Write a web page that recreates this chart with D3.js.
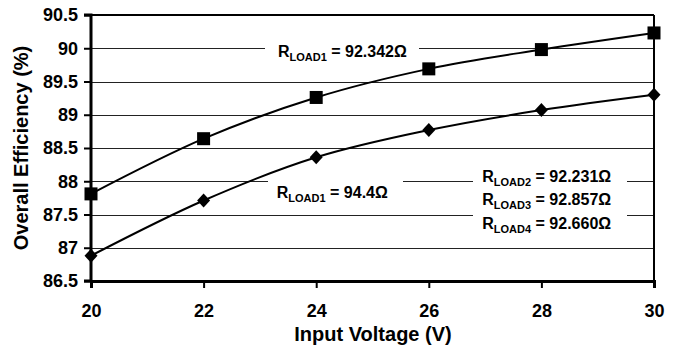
<!DOCTYPE html>
<html><head><meta charset="utf-8">
<script src="https://cdn.jsdelivr.net/npm/d3@7"></script>
<style>body{margin:0;background:#fff}svg{display:block}text{font-family:"Liberation Sans",Arial,sans-serif;font-weight:bold;fill:#000}</style>
</head><body>
<script>
const voltages = [20, 22, 24, 26, 28, 30];
const effSquare = [87.81, 88.64, 89.26, 89.69, 89.98, 90.23];
const effDiamond = [86.88, 87.71, 88.36, 88.77, 89.07, 89.30];
const yTicks = [86.5, 87, 87.5, 88, 88.5, 89, 89.5, 90, 90.5];
const xTicks = [20, 22, 24, 26, 28, 30];
const labels = [
  {x: 23.32, y: 89.87, lines: [["LOAD1", "92.342"]]},
  {x: 23.30, y: 87.75, lines: [["LOAD1", "94.4"]]},
  {x: 26.95, y: 87.99, lines: [["LOAD2", "92.231"], ["LOAD3", "92.857"], ["LOAD4", "92.660"]]}
];

const W = 686, H = 347;
const svg = d3.select("body").append("svg").attr("width", W).attr("height", H);
const x = d3.scaleLinear().domain([20, 30]).range([91, 654]);
const y = d3.scaleLinear().domain([86.5, 90.5]).range([281, 15]);

// gridlines
svg.append("g").selectAll("line").data(yTicks.filter(v => v > 86.5 && v < 90.5)).join("line")
  .attr("x1", x(20)).attr("x2", x(30))
  .attr("y1", d => Math.round(y(d)) + 0.5).attr("y2", d => Math.round(y(d)) + 0.5)
  .attr("stroke", "#222").attr("stroke-width", 1);

// white boxes behind labels (pixel extents derived from label anchors)
const boxes = [
  {x0: 265, x1: 419, y0: 38, y1: 68},
  {x0: 268, x1: 403, y0: 170, y1: 205},
  {x0: 473, x1: 627, y0: 163, y1: 240}
];
svg.append("g").selectAll("rect").data(boxes).join("rect")
  .attr("x", d => d.x0).attr("y", d => d.y0)
  .attr("width", d => d.x1 - d.x0).attr("height", d => d.y1 - d.y0)
  .attr("fill", "#fff");

// frame
svg.append("line").attr("x1", x(20)).attr("x2", x(30)).attr("y1", y(90.5)).attr("y2", y(90.5)).attr("stroke", "#000").attr("stroke-width", 2);
svg.append("line").attr("x1", x(30)).attr("x2", x(30)).attr("y1", y(90.5)).attr("y2", y(86.5)).attr("stroke", "#000").attr("stroke-width", 2);

// axes
const yAxis = d3.axisLeft(y).tickValues(yTicks).tickSize(7).tickFormat(d3.format("~g")).tickPadding(6);
const gy = svg.append("g").attr("transform", `translate(${x(20)},0)`).call(yAxis);
const xAxis = d3.axisBottom(x).tickValues(xTicks).tickSize(7).tickPadding(16);
const gx = svg.append("g").attr("transform", `translate(0,${y(86.5)})`).call(xAxis);
[gy, gx].forEach(g => {
  g.select(".domain").attr("stroke", "#000").attr("stroke-width", 3);
  g.selectAll(".tick line").attr("stroke", "#000").attr("stroke-width", 2);
  g.selectAll(".tick text").attr("font-size", 18).attr("font-family", "Liberation Sans, Arial, sans-serif").attr("font-weight", "bold").attr("fill", "#000");
});
gy.select(".domain").attr("d", `M-7,${y(86.5)}H0V${y(90.5)}H-7`);

// lines
const line = d3.line().x(d => x(d[0])).y(d => y(d[1])).curve(d3.curveCatmullRom.alpha(0));
const sq = voltages.map((v, i) => [v, effSquare[i]]);
const di = voltages.map((v, i) => [v, effDiamond[i]]);
svg.append("path").datum(sq).attr("d", line).attr("fill", "none").attr("stroke", "#000").attr("stroke-width", 2);
svg.append("path").datum(di).attr("d", line).attr("fill", "none").attr("stroke", "#000").attr("stroke-width", 2);

// markers
svg.append("g").selectAll("rect").data(sq).join("rect")
  .attr("x", d => x(d[0]) - 6.5).attr("y", d => y(d[1]) - 6.5)
  .attr("width", 13).attr("height", 13).attr("fill", "#000");
svg.append("g").selectAll("path").data(di).join("path")
  .attr("d", d => `M${x(d[0])},${y(d[1]) - 7}l6.5,7l-6.5,7l-6.5,-7z`).attr("fill", "#000");

// labels
labels.forEach(l => {
  l.lines.forEach((ln, i) => {
    const t = svg.append("text").attr("x", x(l.x)).attr("y", y(l.y) + i * 23.5).attr("font-size", 16);
    t.append("tspan").text("R");
    t.append("tspan").attr("font-size", 11).attr("dy", 4).text(ln[0]);
    t.append("tspan").attr("dy", -4).text(" = " + ln[1] + "\u03A9");
  });
});

// axis titles
svg.append("text").attr("x", 373).attr("y", 341).attr("text-anchor", "middle").attr("font-size", 20).text("Input Voltage (V)");
svg.append("text").attr("transform", "translate(28,148) rotate(-90)").attr("text-anchor", "middle").attr("font-size", 20).text("Overall Efficiency (%)");
</script>
</body></html>
